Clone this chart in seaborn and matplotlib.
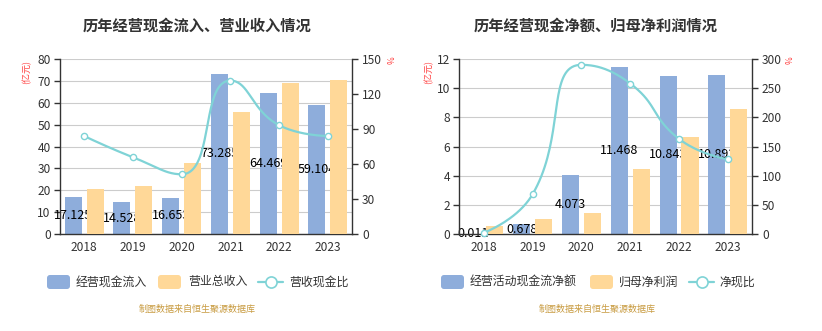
import numpy as np
import pandas as pd
import matplotlib
matplotlib.use("Agg")
import matplotlib.pyplot as plt
import seaborn as sns
from matplotlib.patches import FancyBboxPatch

sns.set_theme(style="white")
plt.rcParams['font.family'] = ['Noto Sans CJK SC', 'DejaVu Sans']

# ---------------- data ----------------
years = ['2018', '2019', '2020', '2021', '2022', '2023']

# left chart
inflow = [17.125, 14.528, 16.653, 73.285, 64.469, 59.104]
revenue = [20.4, 22.1, 32.5, 55.8, 69.2, 70.4]
cash_ratio = [84.0, 65.8, 51.2, 131.5, 93.2, 84.0]
inflow_labels = ['17.125', '14.528', '16.653', '73.285', '64.469', '59.104']

# right chart
net_cash = [0.011, 0.678, 4.073, 11.468, 10.843, 10.893]
net_profit = [0.53, 1.0, 1.42, 4.46, 6.67, 8.57]
net_ratio = [2.1, 68.0, 290.0, 258.0, 163.0, 128.0]
net_labels = ['0.011', '0.678', '4.073', '11.468', '10.843', '10.893']

left_title = '历年经营现金流入、营业收入情况'
right_title = '历年经营现金净额、归母净利润情况'
left_legend = ['经营现金流入', '营业总收入', '营收现金比']
right_legend = ['经营活动现金流净额', '归母净利润', '净现比']
source = '制图数据来自恒生聚源数据库'

BLUE = '#8eaddb'
ORANGE = '#ffd898'
TEAL = '#7fd3d6'
RED = '#ff4040'
TXT = '#333333'

W, H = 822, 331
fig = plt.figure(figsize=(W / 100, H / 100), dpi=100)


def smooth_curve(ax, xs, ys, smooth=0.5, n=40):
    """Cubic-bezier smoothing of the polyline in display space (clamped, echarts-like)."""
    pts = ax.transData.transform(np.column_stack([xs, ys]))
    m = len(pts)
    out = [pts[0]]
    cp0 = pts[0].copy()
    for i in range(1, m):
        p = pts[i]
        prev = pts[i - 1]
        if i == m - 1:
            cp1 = p.copy()
            ncp0 = p.copy()
        else:
            nxt = pts[i + 1]
            v = nxt - prev
            l0 = np.hypot(*(p - prev))
            l1 = np.hypot(*(nxt - p))
            r = l1 / (l0 + l1)
            ncp0 = p + v * smooth * r
            ncp0 = np.minimum(ncp0, np.maximum(nxt, p))
            ncp0 = np.maximum(ncp0, np.minimum(nxt, p))
            v = ncp0 - p
            cp1 = p - v * l0 / l1
            cp1 = np.minimum(cp1, np.maximum(prev, p))
            cp1 = np.maximum(cp1, np.minimum(prev, p))
            v = p - cp1
            ncp0 = p + v * l1 / l0
        t = np.linspace(0, 1, n)[1:, None]
        seg = ((1 - t) ** 3) * prev + 3 * ((1 - t) ** 2) * t * cp0 \
            + 3 * (1 - t) * t ** 2 * cp1 + t ** 3 * p
        out.extend(seg)
        cp0 = ncp0
    out = np.array(out)
    return ax.transData.inverted().transform(out)


def draw_panel(rect, bars1, bars2, ratio, labels, ymax, ystep, y2max, y2step):
    ax = fig.add_axes(rect)
    df = pd.DataFrame({
        'year': years * 2,
        'value': list(bars1) + list(bars2),
        'kind': ['a'] * len(years) + ['b'] * len(years),
    })
    sns.barplot(data=df, x='year', y='value', hue='kind', order=years,
                hue_order=['a', 'b'], palette=[BLUE, ORANGE], width=0.9,
                gap=0.222, saturation=1, legend=False, ax=ax, errorbar=None)
    for p in ax.containers[0]:
        p.set_zorder(2)
        p.set_edgecolor('none')
    for p in ax.containers[1]:
        p.set_zorder(3)
        p.set_edgecolor('none')
    for i, (v, lab) in enumerate(zip(bars1, labels)):
        ax.text(i - 0.225, v / 2, lab, ha='center', va='center',
                fontsize=9, color='black', zorder=2.5)
    ax.set_xlim(-0.5, len(years) - 0.5)
    ax.set_ylim(0, ymax)
    yt = np.arange(0, ymax + 0.001, ystep)
    ax.set_yticks(yt)
    ax.set_yticklabels([f'{int(t)}' for t in yt])
    ax.set_xticks(np.arange(-0.5, len(years), 1.0))
    ax.set_xticklabels([])
    ax.set_xticks(np.arange(len(years)), minor=True)
    ax.set_xticklabels(years, minor=True)
    ax.tick_params(axis='x', which='major', length=4, width=1, color=TXT, direction='out')
    ax.tick_params(axis='x', which='minor', length=0, pad=5, labelsize=8.6, labelcolor=TXT)
    ax.tick_params(axis='y', length=4, width=1, color=TXT, direction='out', pad=2.5,
                   labelsize=8.6, labelcolor=TXT, left=True)
    ax.set_xlabel('')
    ax.set_ylabel('')
    ax.grid(axis='y', color='#cccccc', linewidth=0.8)
    ax.grid(axis='x', visible=False)
    ax.set_axisbelow(True)
    for s in ['top', 'right']:
        ax.spines[s].set_visible(False)
    for s in ['left', 'bottom']:
        ax.spines[s].set_color(TXT)
        ax.spines[s].set_linewidth(1)

    ax2 = ax.twinx()
    ax2.set_ylim(0, y2max)
    yt2 = np.arange(0, y2max + 0.001, y2step)
    ax2.set_yticks(yt2)
    ax2.set_yticklabels([f'{int(t)}' for t in yt2])
    ax2.tick_params(axis='y', length=4, width=1, color=TXT, direction='out', pad=3,
                    labelsize=8.6, labelcolor=TXT, right=True)
    ax2.grid(False)
    for s in ['top', 'left', 'bottom']:
        ax2.spines[s].set_visible(False)
    ax2.spines['right'].set_color(TXT)
    ax2.spines['right'].set_linewidth(1)
    ax2.set_xlim(-0.5, len(years) - 0.5)
    xs = np.arange(len(years), dtype=float)
    curve = smooth_curve(ax2, xs, ratio)
    ax2.plot(curve[:, 0], curve[:, 1], color=TEAL, lw=1.6, zorder=3, clip_on=False)
    sns.scatterplot(x=xs, y=ratio, ax=ax2, s=20, color='white', edgecolor=TEAL,
                    linewidth=1, zorder=4, clip_on=False, legend=False)
    ax2.set_ylabel('')
    return ax, ax2


axh = 175 / H
axb = 97 / H
draw_panel([59.7 / W, axb, 292.6 / W, axh], inflow, revenue, cash_ratio,
           inflow_labels, 80, 10, 150, 30)
draw_panel([459.3 / W, axb, 293 / W, axh], net_cash, net_profit, net_ratio,
           net_labels, 12, 2, 300, 50)

# overlay for text in pixel coordinates
ov = fig.add_axes([0, 0, 1, 1], zorder=10)
ov.set_xlim(0, W)
ov.set_ylim(H, 0)
ov.axis('off')
ov.patch.set_alpha(0)

ov.text(197, 26, left_title, ha='center', va='center', fontsize=11, fontweight='bold', color=TXT)
ov.text(596, 26, right_title, ha='center', va='center', fontsize=11, fontweight='bold', color=TXT)

for x in (27, 429):
    ov.text(x, 72, '(亿元)', ha='center', va='center', rotation=90, fontsize=6.5, color=RED)
for x in (392, 790):
    ov.text(x, 60, '%', ha='center', va='center', rotation=90, fontsize=6, color=RED)


def legend(items, labels):
    (b0, t0, o0, t1, l0, t2) = items
    ly = 282
    ov.add_patch(FancyBboxPatch((b0 + 1, ly - 7), 23, 14, boxstyle='round,pad=0,rounding_size=3',
                                fc=BLUE, ec='none'))
    ov.text(t0, ly, labels[0], ha='left', va='center', fontsize=8.6, color=TXT)
    ov.add_patch(FancyBboxPatch((o0 + 1, ly - 7), 23, 14, boxstyle='round,pad=0,rounding_size=3',
                                fc=ORANGE, ec='none'))
    ov.text(t1, ly, labels[1], ha='left', va='center', fontsize=8.6, color=TXT)
    ov.plot([l0, l0 + 25], [ly, ly], color=TEAL, lw=1.6)
    ov.plot([l0 + 12.5], [ly], marker='o', ms=8, mfc='white', mec=TEAL, mew=1.2)
    ov.text(t2, ly, labels[2], ha='left', va='center', fontsize=8.6, color=TXT)


legend((46, 76, 157, 188, 258, 289), left_legend)
legend((440, 470, 589, 619, 689, 719), right_legend)

ov.text(197, 309, source, ha='center', va='center', fontsize=6.5, color='#c89b40')
ov.text(597, 309, source, ha='center', va='center', fontsize=6.5, color='#c89b40')

fig.savefig('out.png', dpi=100)
